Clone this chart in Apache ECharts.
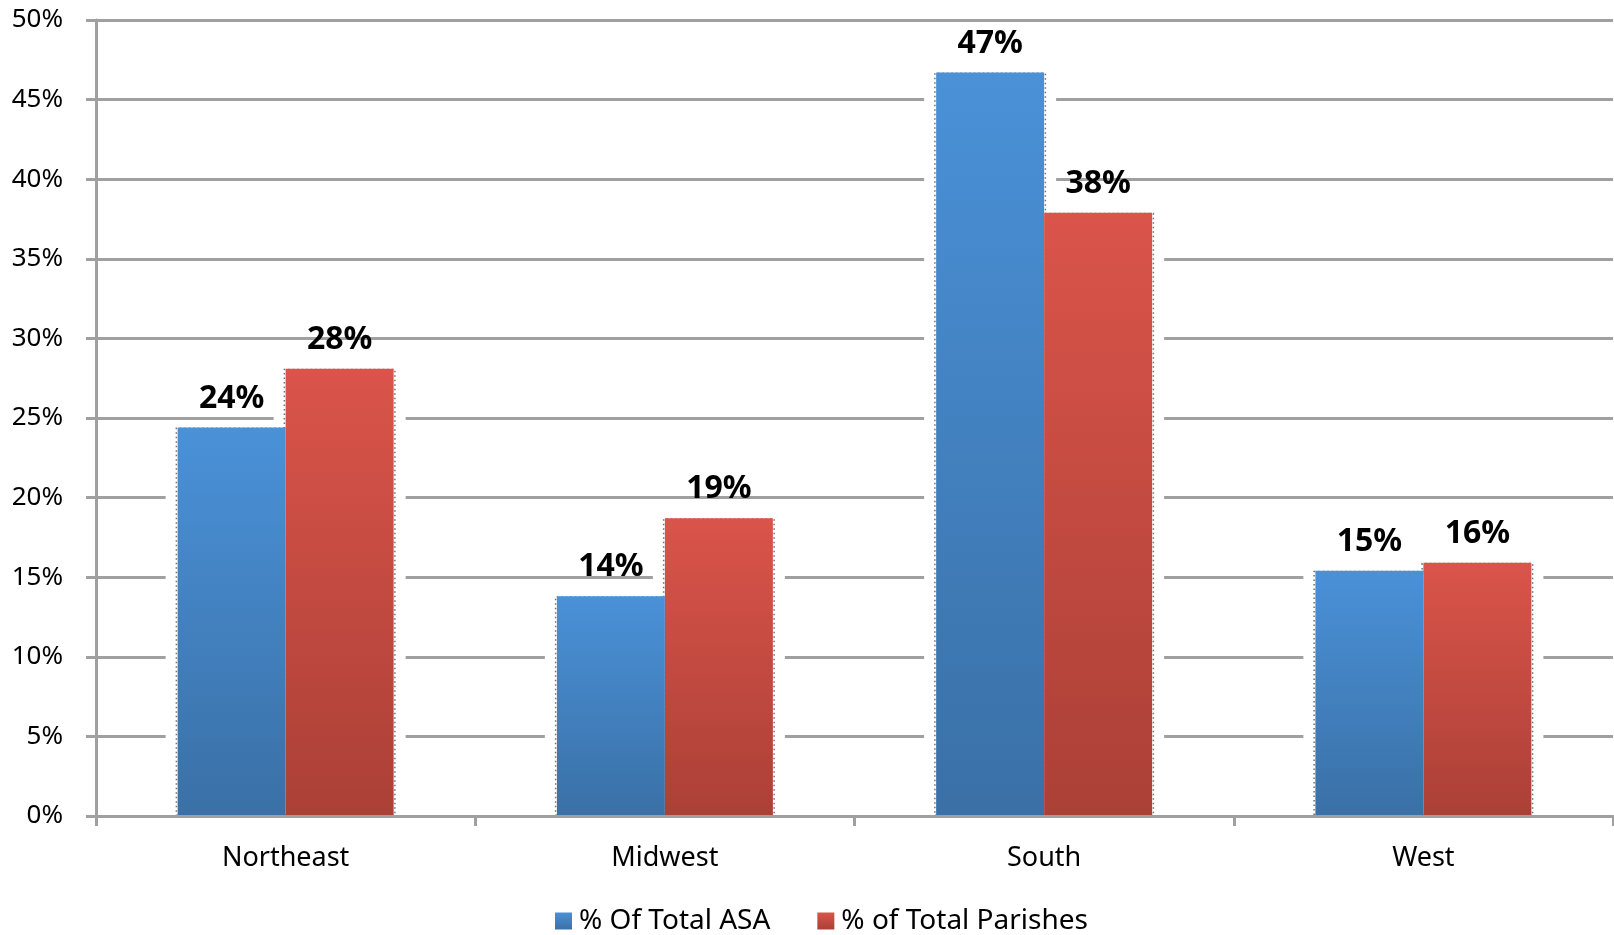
<!DOCTYPE html>
<html>
<head>
<meta charset="utf-8">
<script src="https://cdn.jsdelivr.net/npm/echarts@6/dist/echarts.min.js"></script>
<style>
html,body{margin:0;padding:0;background:#fff;}
#chart{width:1614px;height:935px;}
</style>
</head>
<body>
<div id="chart"></div>
<script>
const categories = ['Northeast', 'Midwest', 'South', 'West'];
const asaValues = [24.4, 13.8, 46.7, 15.4];
const parishValues = [28.1, 18.7, 37.9, 15.9];
const seriesNames = ['% Of Total ASA', '% of Total Parishes'];
const yTicks = {min: 0, max: 50, interval: 5};

const FONT = '"Noto Sans", "Open Sans", sans-serif';
const GRID_COLOR = '#a0a0a0';

function grad(top, bottom) {
  return new echarts.graphic.LinearGradient(0, 0, 0, 1, [
    {offset: 0, color: top}, {offset: 1, color: bottom}
  ]);
}
const blue = grad('#4a91d8', '#3a70a6');
const red = grad('#da544a', '#ab4037');

const chart = echarts.init(document.getElementById('chart'), null, {renderer: 'canvas'});

const hiddenX = () => ({
  type: 'category', data: categories, gridIndex: 0, show: false
});

const labelCfg = {
  show: true, position: 'top', distance: 13,
  fontFamily: FONT, fontWeight: 'bold', fontSize: 32, color: '#000',
  formatter: p => Math.round(p.value) + '%'
};

chart.setOption({
  animation: false,
  backgroundColor: '#fff',
  grid: {left: 96, right: 1, top: 20, bottom: 119, containLabel: false},
  legend: {
    data: seriesNames,
    left: 550, top: 902,
    icon: 'rect', itemWidth: 17, itemHeight: 17, itemGap: 47,
    textStyle: {fontFamily: FONT, fontSize: 28, color: '#000', padding: [0, 0, 0, 2]}
  },
  xAxis: [
    {
      type: 'category', data: categories, z: 5,
      axisLine: {show: true, lineStyle: {color: GRID_COLOR, width: 3}},
      axisTick: {show: true, length: 10, lineStyle: {color: GRID_COLOR, width: 3}},
      axisLabel: {fontFamily: FONT, fontSize: 27, color: '#000', margin: 29},
      splitLine: {show: false}
    },
    hiddenX(),
    hiddenX()
  ],
  yAxis: {
    type: 'value', min: yTicks.min, max: yTicks.max, interval: yTicks.interval,
    axisLine: {show: true, lineStyle: {color: GRID_COLOR, width: 3}},
    axisTick: {show: true, length: 10, lineStyle: {color: GRID_COLOR, width: 3}},
    axisLabel: {fontFamily: FONT, fontSize: 26, color: '#000', margin: 33, formatter: '{value}%'},
    splitLine: {show: true, lineStyle: {color: GRID_COLOR, width: 3}}
  },
  series: [
    {name: 'haloA', type: 'bar', xAxisIndex: 1, data: asaValues, barWidth: 132, barGap: '-18.18%',
     itemStyle: {color: '#fff'}, z: 1, silent: true},
    {name: 'haloB', type: 'bar', xAxisIndex: 1, data: parishValues, barWidth: 132, barGap: '-18.18%',
     itemStyle: {color: '#fff'}, z: 1, silent: true},
    {name: 'dotA', type: 'bar', xAxisIndex: 2, data: asaValues, barWidth: 112, barGap: '-3.57%',
     itemStyle: {color: 'rgba(0,0,0,0)', borderColor: '#707070', borderWidth: 1.5, borderType: [1.5, 3]}, z: 2, silent: true},
    {name: 'dotB', type: 'bar', xAxisIndex: 2, data: parishValues, barWidth: 112, barGap: '-3.57%',
     itemStyle: {color: 'rgba(0,0,0,0)', borderColor: '#707070', borderWidth: 1.5, borderType: [1.5, 3]}, z: 2, silent: true},
    {name: seriesNames[0], type: 'bar', xAxisIndex: 0, data: asaValues, barWidth: 108, barGap: '0%',
     itemStyle: {color: blue}, label: labelCfg, z: 3},
    {name: seriesNames[1], type: 'bar', xAxisIndex: 0, data: parishValues, barWidth: 108, barGap: '0%',
     itemStyle: {color: red}, label: labelCfg, z: 3}
  ]
});
</script>
</body>
</html>
